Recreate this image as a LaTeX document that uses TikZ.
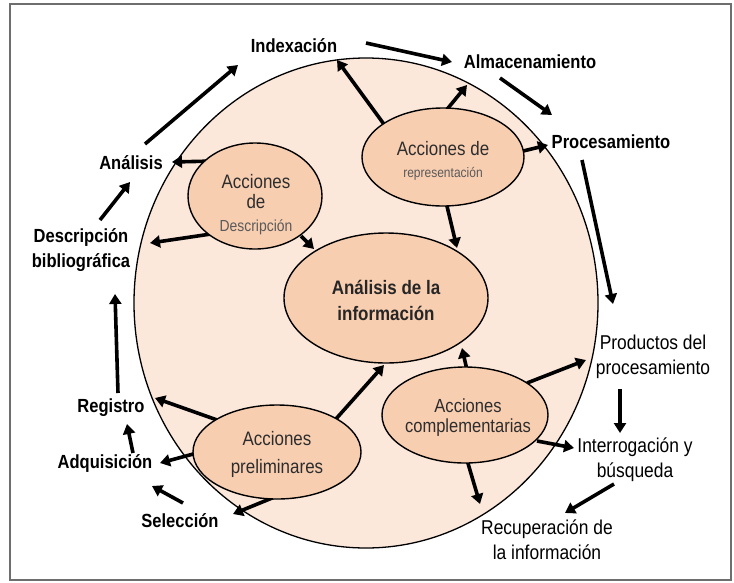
\documentclass[tikz,border=0pt]{standalone}
\usepackage{fontspec}
\setmainfont{Liberation Sans}[FakeStretch=0.87]
\usetikzlibrary{arrows.meta,shapes.geometric}
\definecolor{bigfill}{RGB}{252,232,218}
\definecolor{ellfill}{RGB}{248,206,177}
\definecolor{framegray}{RGB}{110,110,110}
\definecolor{intext}{RGB}{45,45,45}
\definecolor{ingray}{RGB}{90,90,90}
\pgfdeclarelayer{bg}
\pgfdeclarelayer{mid}
\pgfsetlayers{bg,mid,main}
\begin{document}
\begin{tikzpicture}[x=1pt,y=-1pt,
  lab/.style={font=\fontsize{19}{25}\selectfont\bfseries, align=center, inner sep=1pt, text=black},
  labr/.style={font=\fontsize{20}{25}\selectfont, align=center, inner sep=1pt, text=black},
  ell/.style={ellipse, draw=black, line width=1.4pt, fill=ellfill, inner sep=0pt},
  intxt/.style={align=center, inner sep=0pt, text=intext},
  arr/.style={line width=3.6pt, -{Triangle[length=10pt,width=12pt]}},
]
\useasboundingbox (0,0) rectangle (734,582);
\draw[framegray, line width=1.2pt] (10,4) rectangle (731,580);

\begin{pgfonlayer}{bg}
\draw[black, line width=1.3pt, fill=bigfill] (366,303) ellipse [x radius=232, y radius=245];
\end{pgfonlayer}

% ellipses
\node[ell, minimum width=134, minimum height=106] (desc) at (255,196) {};
\node[ell, minimum width=162, minimum height=98] (rep) at (443,157) {};
\node[ell, minimum width=204, minimum height=130] (central) at (386,298) {};
\node[ell, minimum width=168, minimum height=94] (pre) at (277,452) {};
\node[ell, minimum width=166, minimum height=96] (comp) at (465,415) {};

% ellipse texts
\node[intxt, font=\fontsize{19.5}{20}\selectfont] (descT) at (256,205)
  {Acciones\\de\\[3pt]{\fontsize{16}{16}\selectfont\color{ingray}Descripción}};
\node[intxt, font=\fontsize{19.5}{22}\selectfont] (repT) at (443,161)
  {Acciones de\\{\fontsize{13.8}{14}\selectfont\color{ingray}representación}};
\node[intxt, font=\fontsize{19.5}{26}\selectfont\bfseries, text=black!85] (centT) at (386,300)
  {Análisis de la\\información};
\node[intxt, font=\fontsize{19.5}{28}\selectfont] (preT) at (277,454)
  {Acciones\\preliminares};
\node[intxt, font=\fontsize{19}{20}\selectfont] (compT) at (468,418)
  {Acciones\\complementarias};

% outer labels
\node[lab] (index) at (294,46) {Indexación};
\node[lab] (almac) at (530,62) {Almacenamiento};
\node[lab] (proc) at (611,142) {Procesamiento};
\node[lab] (analisis) at (131,163) {Análisis};
\node[lab] (descb) at (81,250) {Descripción\\bibliográfica};
\node[lab] (registro) at (111,408) {Registro};
\node[lab] (adq) at (105,463) {Adquisición};
\node[lab] (selec) at (180,521) {Selección};
\node[labr] (prod) at (653,357) {Productos del\\procesamiento};
\node[labr] (interr) at (635,460) {Interrogación y\\búsqueda};
\node[labr] (recup) at (547,540) {Recuperación de\\la información};

\begin{pgfonlayer}{mid}
% outer cycle
\draw[arr] ([shift={(14,-19)}]analisis.center) -- ([shift={(-56,19)}]index.center);
\draw[arr] ([shift={(72,-3)}]index.center) -- ([shift={(-78,0)}]almac.center);
\draw[arr] ([shift={(-30,16)}]almac.center) -- ([shift={(-59,-27)}]proc.center);
\draw[arr] ([shift={(-29,18)}]proc.center) -- ([shift={(-40,-53)}]prod.center);
\draw[arr] ([shift={(-33,32)}]prod.center) -- ([shift={(-15,-27)}]interr.center);
\draw[arr] ([shift={(-21,24)}]interr.center) -- ([shift={(18,-27)}]recup.center);
\draw[arr] ([shift={(3,-18)}]selec.center) -- ([shift={(47,23)}]adq.center);
\draw[arr] ([shift={(28,-10)}]adq.center) -- ([shift={(16,16)}]registro.center);
\draw[arr] ([shift={(7,-15)}]registro.center) -- ([shift={(34,44)}]descb.center);
\draw[arr] ([shift={(19,-30)}]descb.center) -- ([shift={(-1,19)}]analisis.center);
% from descripcion
\draw[arr] ([shift={(-40,-35)}]desc.center) -- ([shift={(41,-1)}]analisis.center);
\draw[arr] ([shift={(-44,38)}]desc.center) -- ([shift={(69,-7)}]descb.center);
\draw[arr] ([shift={(46,40)}]desc.center) -- ([shift={(-72,-49)}]central.center);
% from representacion
\draw[arr] ([shift={(-57,-30)}]rep.center) -- ([shift={(43,14)}]index.center);
\draw[arr] ([shift={(1,-44)}]rep.center) -- ([shift={(-63,23)}]almac.center);
\draw[arr] ([shift={(76,-5)}]rep.center) -- ([shift={(-63,3)}]proc.center);
\draw[arr] ([shift={(3,45)}]rep.center) -- ([shift={(71,-50)}]central.center);
% from preliminares
\draw[arr] ([shift={(-57,-31)}]pre.center) -- ([shift={(44,-10)}]registro.center);
\draw[arr] ([shift={(-80,1)}]pre.center) -- ([shift={(55,0)}]adq.center);
\draw[arr] ([shift={(0,44)}]pre.center) -- ([shift={(53,-7)}]selec.center);
\draw[arr] ([shift={(58,-32)}]pre.center) -- ([shift={(-2,67)}]central.center);
% from complementarias
\draw[arr] ([shift={(2,-45)}]comp.center) -- ([shift={(76,50)}]central.center);
\draw[arr] ([shift={(62,-32)}]comp.center) -- ([shift={(-67,3)}]prod.center);
\draw[arr] ([shift={(72,26)}]comp.center) -- ([shift={(-61,-12)}]interr.center);
\draw[arr] ([shift={(2,45)}]comp.center) -- ([shift={(-67,-36)}]recup.center);
\end{pgfonlayer}
\end{tikzpicture}
\end{document}
